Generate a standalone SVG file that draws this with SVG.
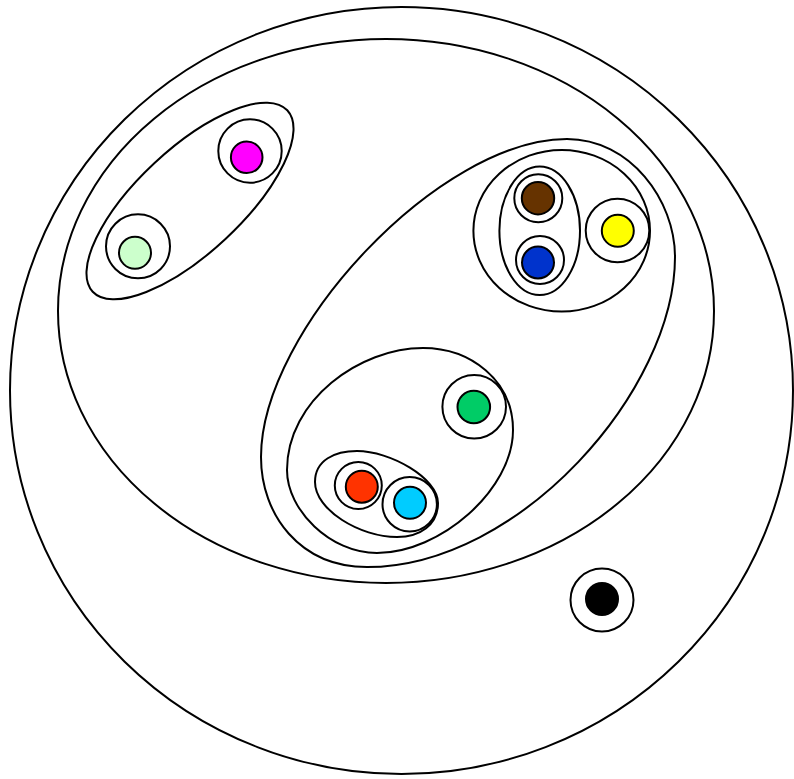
<svg xmlns="http://www.w3.org/2000/svg" width="794" height="779" viewBox="0 0 794 779">
<style>
.set{fill:none;stroke:#000;stroke-width:2}
.ring{fill:#fff;stroke:#000;stroke-width:2}
.dot{stroke:#000;stroke-width:2}
</style>
<rect width="794" height="779" fill="#fff"/>
<g id="set-all"><ellipse class="set" cx="401.5" cy="390.5" rx="391.5" ry="383.5"/></g>
<g id="set-main"><ellipse class="set" cx="386" cy="311" rx="328" ry="272"/></g>
<g id="set-left"><ellipse class="set" cx="190" cy="201" rx="133" ry="52" transform="rotate(-43 190 201)"/></g>
<g id="set-big"><path class="set" d="M567,139 C630,139 675,200 675,257 C675,390 520,567 367,567 C300,567 261,515 261,457 C261,330 440,139 567,139 Z"/></g>
<g id="set-upper"><ellipse class="set" cx="561.7" cy="230.8" rx="88.3" ry="80.8"/></g>
<g id="set-bb"><ellipse class="set" cx="539.7" cy="230.8" rx="40.3" ry="64.2"/></g>
<g id="set-lower"><path class="set" d="M423,348 C470,348 513,380 513,430 C513,490 440,553 377,553 C330,553 287,510 287,470 C287,400 360,348 423,348 Z"/></g>
<g id="set-rc"><path class="set" d="M315,482 C315,460 335,451 357,451 C390,451 438,478 438,503 C438,525 420,537 397,537 C360,537 315,510 315,482 Z"/></g>
<g id="node-magenta"><circle class="ring" cx="250" cy="151" r="31.7"/><circle class="dot" cx="246.7" cy="157.3" r="15.8" fill="#ff00ff"/></g>
<g id="node-lightgreen"><circle class="ring" cx="138" cy="246.3" r="32"/><circle class="dot" cx="135" cy="252.8" r="16" fill="#ccffcc"/></g>
<g id="node-brown"><circle class="ring" cx="538.3" cy="198.3" r="24"/><circle class="dot" cx="538" cy="198.2" r="16.2" fill="#663300"/></g>
<g id="node-blue"><circle class="ring" cx="540" cy="260" r="24"/><circle class="dot" cx="538" cy="262.5" r="16" fill="#0033cc"/></g>
<g id="node-yellow"><circle class="ring" cx="617.5" cy="230.5" r="31.8"/><circle class="dot" cx="617.8" cy="230.8" r="16" fill="#ffff00"/></g>
<g id="node-green"><circle class="ring" cx="474.2" cy="406.7" r="31.8"/><circle class="dot" cx="473.8" cy="407" r="16.3" fill="#00cc66"/></g>
<g id="node-red"><circle class="ring" cx="358.3" cy="485.5" r="23.5"/><circle class="dot" cx="361.8" cy="486.7" r="16" fill="#ff3300"/></g>
<g id="node-cyan"><circle class="ring" cx="409.7" cy="504.2" r="27.2"/><circle class="dot" cx="410" cy="502.8" r="16" fill="#00ccff"/></g>
<g id="node-black"><circle class="ring" cx="602" cy="600" r="31.5"/><circle class="dot" cx="602" cy="599" r="16" fill="#000000"/></g>
<g id="connectors"/>
</svg>
